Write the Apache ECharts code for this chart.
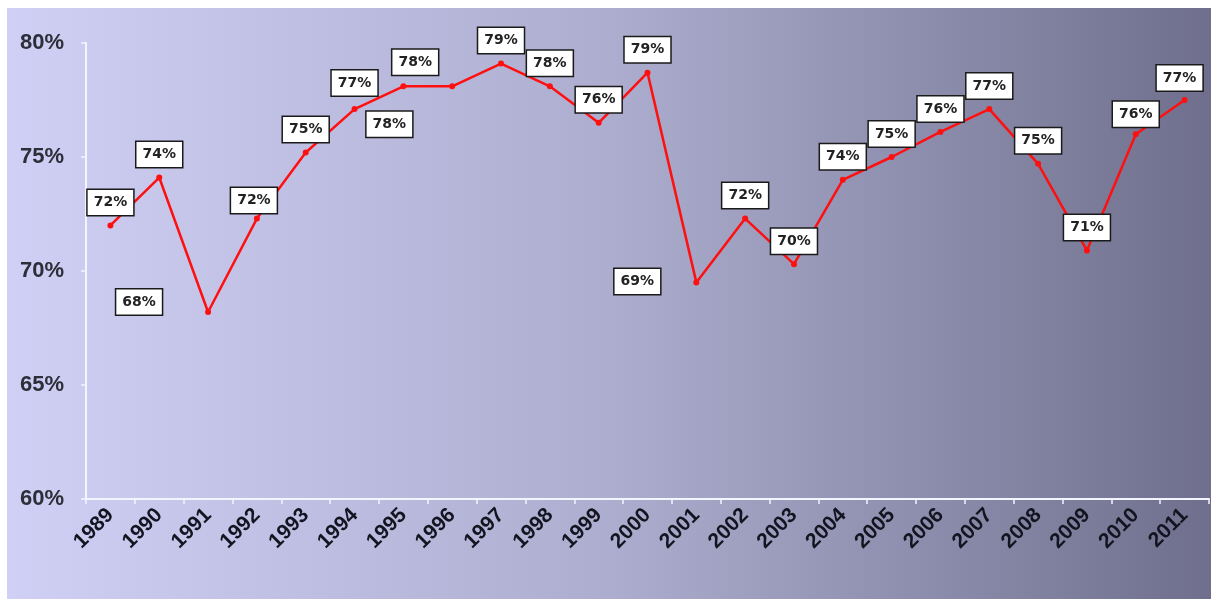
<!DOCTYPE html>
<html>
<head>
<meta charset="utf-8">
<script src="https://cdn.jsdelivr.net/npm/echarts@6/dist/echarts.min.js"></script>
<style>
html,body{margin:0;padding:0;background:#ffffff;}
#chart{width:1211px;height:599px;}
</style>
</head>
<body>
<div id="chart"></div>
<script>
// ---- data ----
var years = ['1989','1990','1991','1992','1993','1994','1995','1996','1997','1998','1999','2000',
             '2001','2002','2003','2004','2005','2006','2007','2008','2009','2010','2011'];
var rates = [72.0, 74.1, 68.2, 72.3, 75.2, 77.1, 78.1, 78.1, 79.1, 78.1, 76.5, 78.7,
             69.5, 72.3, 70.3, 74.0, 75.0, 76.1, 77.1, 74.7, 70.9, 76.0, 77.5];
var labelTexts = ['72%','74%','68%','72%','75%','77%','78%','78%','79%','78%','76%','79%',
                  '69%','72%','70%','74%','75%','76%','77%','75%','71%','76%','77%'];
var yTicks = [60, 65, 70, 75, 80];

// label placement tweaks (presentation only)
var labelOffsets = {
  '1991': [-69, -10],
  '1992': [-3, -18],
  '1994': [0, -26],
  '1995': [-14, 38],
  '1996': [-37, -24],
  '2001': [-59, -1],
  '2010': [0, -20],
  '2011': [-5, -22]
};

var chart = echarts.init(document.getElementById('chart'), null, {renderer: 'canvas'});

var seriesData = rates.map(function (v, i) {
  var off = labelOffsets[years[i]] || [0, -23];
  return {
    value: v,
    label: { offset: off, formatter: labelTexts[i] }
  };
});

chart.setOption({
  animation: false,
  backgroundColor: 'transparent',
  graphic: [{
    type: 'rect',
    z: -100,
    silent: true,
    shape: { x: 7, y: 8, width: 1204, height: 591 },
    style: {
      fill: new echarts.graphic.LinearGradient(0, 0, 1, 0, [
        { offset: 0, color: '#d0d0f6' },
        { offset: 0.5, color: '#adadcf' },
        { offset: 1, color: '#6f6f8d' }
      ])
    }
  }],
  grid: { left: 86, right: 2, top: 43, bottom: 100, containLabel: false },
  xAxis: {
    type: 'category',
    data: years,
    boundaryGap: true,
    axisLine: { show: true, lineStyle: { color: '#f4f4ff', width: 2 } },
    axisTick: { show: true, length: 5, interval: 0, lineStyle: { color: '#f4f4ff', width: 1.5 } },
    axisLabel: {
      interval: 0,
      rotate: 45,
      margin: 13,
      fontFamily: 'Liberation Sans, Arial, sans-serif',
      fontWeight: 'bold',
      fontSize: 21,
      color: '#141420'
    },
    splitLine: { show: false }
  },
  yAxis: {
    type: 'value',
    min: yTicks[0],
    max: yTicks[yTicks.length - 1],
    interval: yTicks[1] - yTicks[0],
    axisLine: { show: true, lineStyle: { color: '#f4f4ff', width: 2 } },
    axisTick: { show: true, length: 5, lineStyle: { color: '#f4f4ff', width: 1.5 } },
    axisLabel: {
      formatter: '{value}%',
      margin: 22,
      fontFamily: 'Liberation Sans, Arial, sans-serif',
      fontWeight: 'bold',
      fontSize: 22,
      color: '#2e2e38'
    },
    splitLine: { show: false }
  },
  series: [{
    type: 'line',
    data: seriesData,
    symbol: 'circle',
    symbolSize: 6,
    lineStyle: { color: '#ff1010', width: 2.5 },
    itemStyle: { color: '#ff1010' },
    label: {
      show: true,
      position: 'inside',
      fontFamily: 'DejaVu Sans, sans-serif',
      fontWeight: 'bold',
      fontSize: 14,
      color: '#222222',
      backgroundColor: '#ffffff',
      borderColor: '#1a1a1a',
      borderWidth: 1.5,
      padding: [6, 6, 5, 6]
    },
    z: 3
  }]
});
</script>
</body>
</html>
